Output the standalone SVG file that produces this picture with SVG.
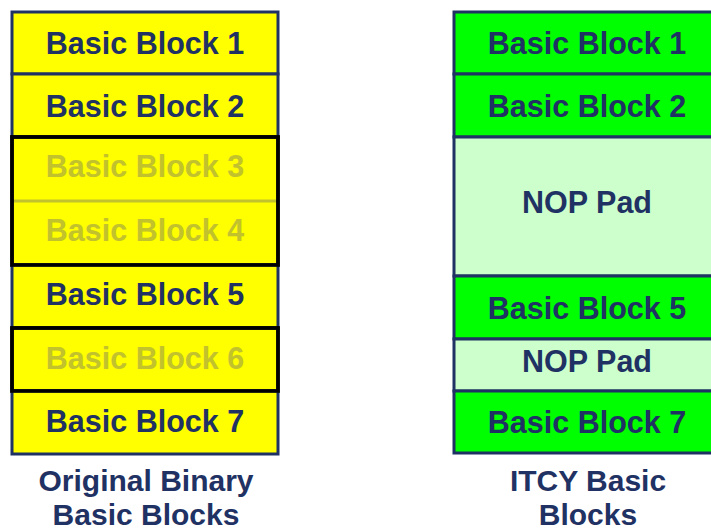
<svg xmlns="http://www.w3.org/2000/svg" width="711" height="532" viewBox="0 0 711 532">
<style>
text{font-family:"Liberation Sans",Arial,sans-serif;font-weight:bold;font-size:30.5px;text-anchor:middle}
.t{fill:#1F3263}
.f{fill:#C2C22C}
.cap{fill:#1F3263;font-size:30px}
.y{fill:#FFFF00;stroke:#1F3263;stroke-width:3}
.g{fill:#00FF00;stroke:#1F3263;stroke-width:3}
.p{fill:#CCFFCC;stroke:#1F3263;stroke-width:3}
.blk{fill:none;stroke:#000;stroke-width:3.5}
</style>
<rect width="711" height="532" fill="#fff"/>
<g id="original">
<g id="L1"><rect class="y" x="12" y="12" width="266" height="62"/><text class="t" x="145" y="54">Basic Block 1</text></g>
<g id="L2"><rect class="y" x="12" y="74" width="266" height="63"/><text class="t" x="145" y="117">Basic Block 2</text></g>
<g id="L34"><rect x="12" y="137" width="266" height="128" fill="#FFFF00"/>
<line x1="12" y1="201" x2="278" y2="201" stroke="#C2C22C" stroke-width="3"/>
<text class="f" x="145" y="177">Basic Block 3</text>
<text class="f" x="145" y="241">Basic Block 4</text>
<rect class="blk" x="12" y="137" width="266" height="128"/></g>
<g id="L5"><rect class="y" x="12" y="265" width="266" height="63"/><text class="t" x="145" y="305">Basic Block 5</text></g>
<g id="L6"><rect x="12" y="328" width="266" height="63" fill="#FFFF00"/><text class="f" x="145" y="369">Basic Block 6</text><rect class="blk" x="12" y="328" width="266" height="63"/></g>
<g id="L7"><rect class="y" x="12" y="391" width="266" height="63"/><text class="t" x="145" y="432">Basic Block 7</text></g>
<rect x="12" y="137" width="266" height="128" class="blk"/>
<rect x="12" y="328" width="266" height="63" class="blk"/>
<g id="cap1"><text class="cap" x="146" y="491">Original Binary</text><text class="cap" x="146" y="525">Basic Blocks</text></g>
</g>
<g id="itcy">
<g id="R1"><rect class="g" x="454" y="12" width="266" height="62"/><text class="t" x="587" y="54">Basic Block 1</text></g>
<g id="R2"><rect class="g" x="454" y="74" width="266" height="63"/><text class="t" x="587" y="117">Basic Block 2</text></g>
<g id="RP1"><rect class="p" x="454" y="137" width="266" height="139"/><text class="t" x="587" y="213">NOP Pad</text></g>
<g id="R5"><rect class="g" x="454" y="276" width="266" height="63"/><text class="t" x="587" y="319">Basic Block 5</text></g>
<g id="RP2"><rect class="p" x="454" y="339" width="266" height="52"/><text class="t" x="587" y="372">NOP Pad</text></g>
<g id="R7"><rect class="g" x="454" y="391" width="266" height="62"/><text class="t" x="587" y="433">Basic Block 7</text></g>
<g id="cap2"><text class="cap" x="588" y="491">ITCY Basic</text><text class="cap" x="588" y="525">Blocks</text></g>
</g>
<g id="connectors"/>
</svg>
